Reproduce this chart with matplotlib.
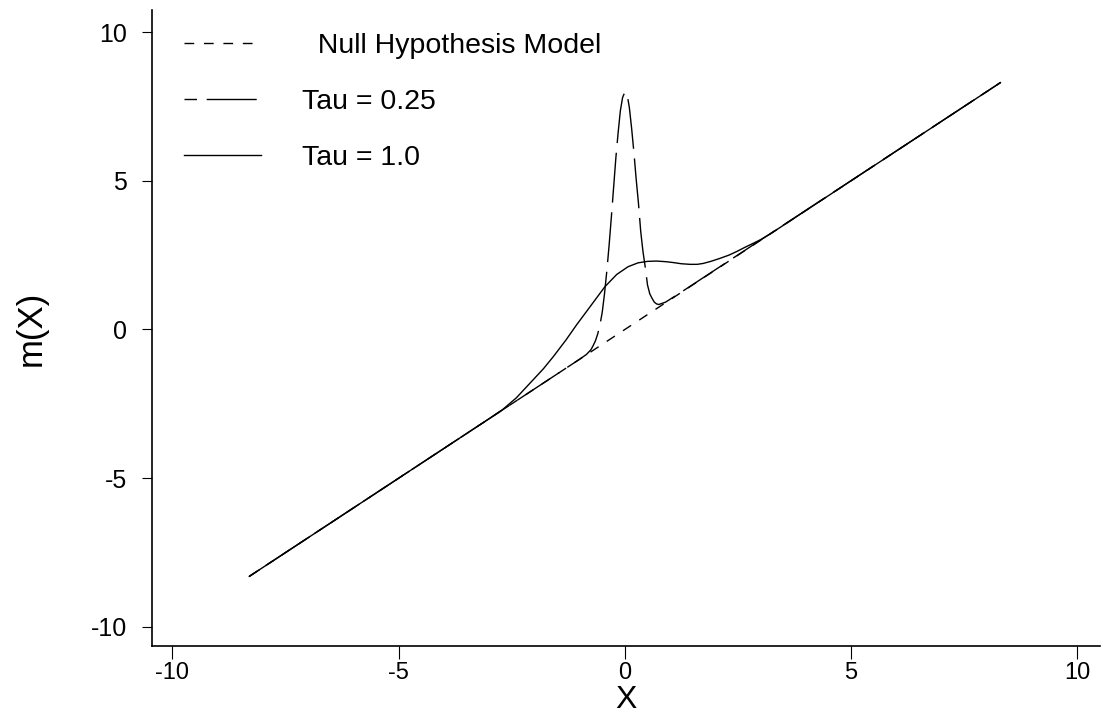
import matplotlib
matplotlib.use("Agg")
import matplotlib.pyplot as plt

plt.rcParams['font.family'] = ['Liberation Sans', 'DejaVu Sans']

# null hypothesis model m(x) = x
null_x = [-8.3, 8.3]
null_y = [-8.3, 8.3]

# tau = 0.25
tau025_x = [-8.3, -1.0, -0.85, -0.75, -0.70, -0.65, -0.60, -0.55, -0.50, -0.45,
            -0.40, -0.35, -0.30, -0.25, -0.20, -0.15, -0.10, -0.05, 0.0, 0.05,
            0.10, 0.15, 0.20, 0.25, 0.30, 0.35, 0.40, 0.45, 0.50, 0.55,
            0.60, 0.65, 0.70, 0.75, 0.90, 1.20, 8.3]
tau025_y = [-8.3, -1.0, -0.84, -0.68, -0.54, -0.38, -0.15, 0.16, 0.58, 1.2,
            1.95, 2.8, 3.75, 4.75, 5.75, 6.6, 7.35, 7.8, 7.98, 7.9,
            7.45, 6.75, 5.95, 5.05, 4.25, 3.3, 2.62, 2.1, 1.5, 1.2,
            1.05, 0.92, 0.86, 0.84, 0.92, 1.21, 8.3]

# tau = 1.0
tau1_x = [-8.3, -3.0, -2.7, -2.4, -2.1, -1.8, -1.58, -1.3, -1.07, -0.85,
          -0.66, -0.44, -0.18, 0.07, 0.29, 0.5, 0.70, 0.9, 1.07, 1.25,
          1.44, 1.6, 1.73, 1.9, 2.10, 2.3, 2.47, 2.65, 2.84, 3.0, 3.2, 8.3]
tau1_y = [-8.3, -3.0, -2.69, -2.3, -1.81, -1.32, -0.91, -0.35, 0.15, 0.6,
          0.99, 1.44, 1.85, 2.11, 2.24, 2.29, 2.30, 2.28, 2.25, 2.21,
          2.19, 2.19, 2.22, 2.29, 2.39, 2.5, 2.62, 2.76, 2.9, 3.02, 3.2, 8.3]

ticks = [-10, -5, 0, 5, 10]

fig = plt.figure(figsize=(11.03, 7.19), dpi=100)
ax = fig.add_axes([152 / 1103, 73 / 719, 948 / 1103, 636 / 719])

ax.plot(null_x, null_y, color='black', lw=1.0, linestyle=(0, (7, 7)),
        label='  Null Hypothesis Model')
ax.plot(tau025_x, tau025_y, color='black', lw=1.0, linestyle=(27, (36, 7)),
        label='Tau = 0.25')
ax.plot(tau1_x, tau1_y, color='black', lw=1.0, label='Tau = 1.0')

ax.set_xlim(-10.45, 10.5)
ax.set_ylim(-10.64, 10.74)
ax.set_xticks(ticks)
ax.set_yticks(ticks)
ax.set_xticklabels([str(t) for t in ticks])
ax.set_yticklabels([str(t) for t in ticks])

for s in ['top', 'right']:
    ax.spines[s].set_visible(False)
for s in ['left', 'bottom']:
    ax.spines[s].set_linewidth(1.2)

ax.tick_params(axis='x', direction='out', length=9.4, width=0.8, pad=2, labelsize=17)
ax.tick_params(axis='y', direction='out', length=7.2, width=0.8, pad=11, labelsize=18)

ax.set_xlabel('X', fontsize=23, labelpad=1)
ax.set_ylabel('m(X)', fontsize=25)
ax.yaxis.label.set_va('center')
ax.yaxis.set_label_coords(-0.127, 0.5)

ax.legend(loc='upper left', bbox_to_anchor=(184 / 1103, 1 - 33 / 719),
          bbox_transform=fig.transFigure, frameon=False, fontsize=20.5,
          handlelength=2.7, handletextpad=1.45, borderpad=0, borderaxespad=0,
          labelspacing=1.05)

fig.savefig('out.png', dpi=100)
